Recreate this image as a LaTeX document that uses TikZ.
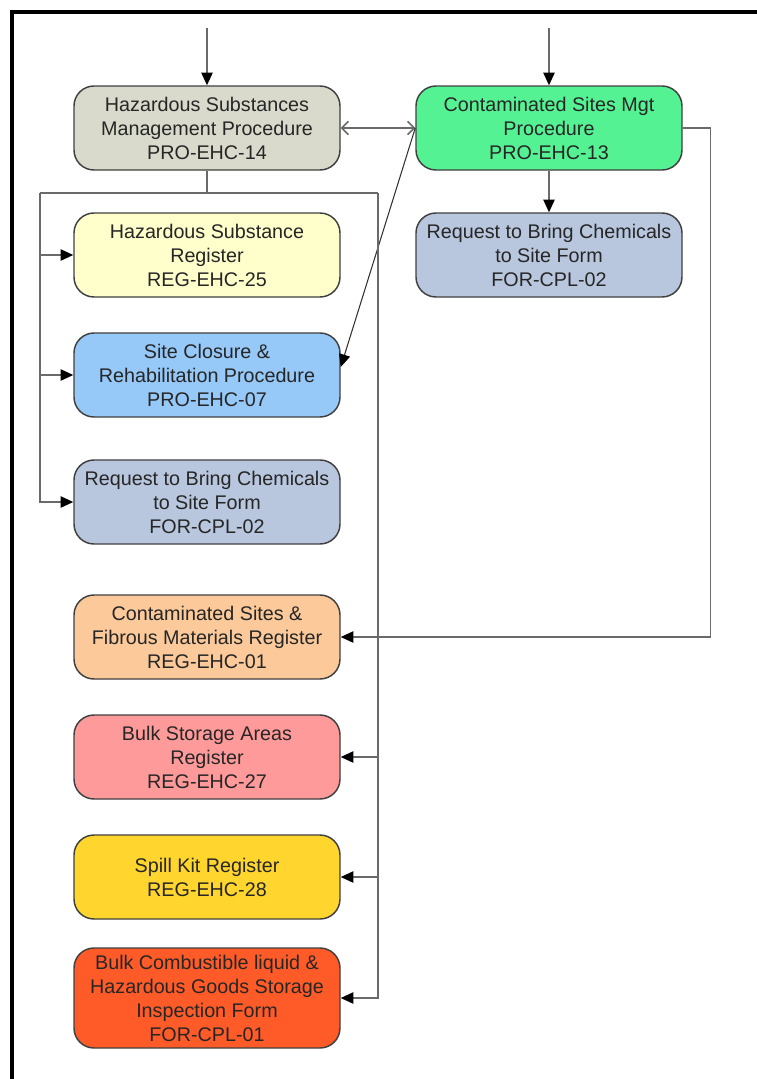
\documentclass[tikz,border=0pt]{standalone}
\usepackage{fontspec}
\setmainfont{Liberation Sans}
\usetikzlibrary{calc}
\usetikzlibrary{arrows.meta}
\definecolor{hsmgrey}{HTML}{D9DACB}
\definecolor{csmgreen}{HTML}{55F294}
\definecolor{formblue}{HTML}{B8C6DE}
\definecolor{regyellow}{HTML}{FFFFCC}
\definecolor{siteblue}{HTML}{96C8F8}
\definecolor{csrorange}{HTML}{FBC99A}
\definecolor{bsapink}{HTML}{FF9A9A}
\definecolor{skgold}{HTML}{FFD52E}
\definecolor{bclred}{HTML}{FF5B28}
\definecolor{wire}{HTML}{6A6A6A}
\tikzset{
  box/.style={draw=black!75, line width=1.1pt, rounded corners=15pt, align=center,
    minimum width=199.5pt, minimum height=63pt, inner sep=2pt, text=black!85,
    font=\fontsize{14.8}{18}\selectfont},
  wireline/.style={draw=wire, line width=1.1pt},
  arr/.style={wireline, -{Triangle[length=9.5pt,width=8.5pt,color=black]}},
  barb/.style={wireline, {Straight Barb[length=5pt,width=10pt]}-{Straight Barb[length=5pt,width=10pt]}}
}

\begin{document}
\begin{tikzpicture}[x=0.75pt, y=0.75pt]
\useasboundingbox (0,0) rectangle (757,-1079);

% frame
\draw[line width=2.4pt] (12,-1079) -- (12,-12) -- (757,-12);

% procedures

\node[box, fill=hsmgrey] (HSM) at (207,-128) {Hazardous Substances\\Management Procedure\\PRO-EHC-14};
\node[box, fill=csmgreen] (CSM) at (549,-128) {Contaminated Sites Mgt\\Procedure\\PRO-EHC-13};
\node[box, fill=formblue] (RBC') at (549,-255) {Request to Bring Chemicals\\to Site Form\\FOR-CPL-02};

% documents

\node[box, fill=regyellow] (HSR) at (207,-255) {Hazardous Substance\\Register\\REG-EHC-25};
\node[box, fill=siteblue] (SCR) at (207,-375) {Site Closure \&\\Rehabilitation Procedure\\PRO-EHC-07};
\node[box, fill=formblue] (RBC) at (207,-502) {Request to Bring Chemicals\\to Site Form\\FOR-CPL-02};
\node[box, fill=csrorange] (CSR) at (207,-637) {Contaminated Sites \&\\Fibrous Materials Register\\REG-EHC-01};
\node[box, fill=bsapink] (BSA) at (207,-757) {Bulk Storage Areas\\Register\\REG-EHC-27};
\node[box, fill=skgold] (SKR) at (207,-877) {Spill Kit Register\\REG-EHC-28};
\node[box, fill=bclred, minimum height=75pt] (BCL) at (207,-998) {Bulk Combustible liquid \&\\Hazardous Goods Storage\\Inspection Form\\FOR-CPL-01};

% arrows

\coordinate (inHSM) at (207,-28);
\coordinate (inCSM) at (549,-28);
\draw[arr] (inHSM) -- (HSM.north);
\draw[arr] (inCSM) -- (CSM.north);
\draw[arr] (CSM.south) -- (RBC'.north);
\draw[barb] (HSM.east) -- (CSM.west);
\draw[arr, draw=black!80, line width=0.8pt] (CSM.west) -- ($(SCR.east)+(0,8)$);
\draw[arr] (CSM.east) -- ++(28,0) |- (CSR.east);

\coordinate (T) at (207,-193);
\coordinate (TL) at (40,-193);
\coordinate (TR) at (378,-193);
\draw[wireline] (HSM.south) -- (T);
\draw[wireline] (TL) -- (TR);
\draw[arr] (TL) |- (RBC.west);
\draw[arr] (TL |- HSR.west) -- (HSR.west);
\draw[arr] (TL |- SCR.west) -- (SCR.west);
\draw[arr] (TR) |- (BCL.east);
\draw[arr] (TR |- BSA.east) -- (BSA.east);
\draw[arr] (TR |- SKR.east) -- (SKR.east);

\end{tikzpicture}
\end{document}
